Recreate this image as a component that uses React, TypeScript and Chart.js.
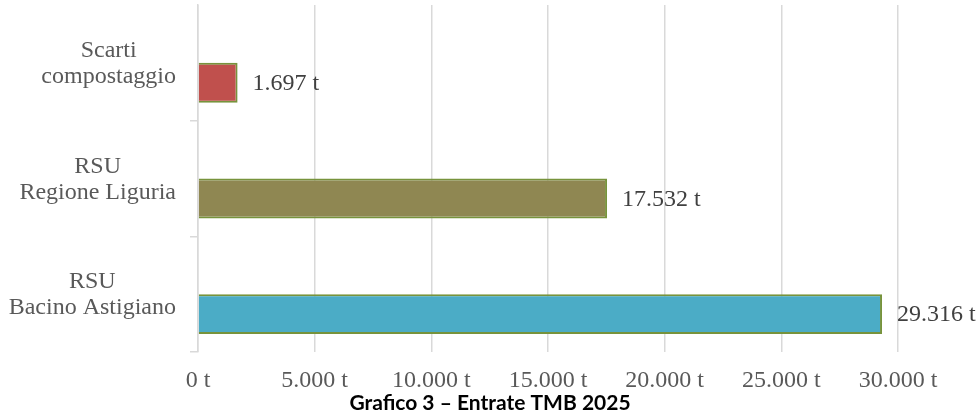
import React, { useEffect, useRef } from "react";
import { Chart, registerables } from "chart.js";

Chart.register(...registerables);

// ---- data ----
const categories: string[][] = [
  ["Scarti", "compostaggio"],
  ["RSU", "Regione Liguria"],
  ["RSU", "Bacino Astigiano"],
];
const upperValues = [0, 0, 30];
const tonnes = [1697, 17532, 29316];
const barColors = ["#C0504D", "#8F8752", "#4BACC6"];
const xMin = 0;
const xMax = 30000;
const xStep = 5000;
const chartTitle = "Grafico 3 – Entrate TMB 2025";

const SERIF = "'Liberation Serif', 'Times New Roman', serif";
const FS = 24;

function fmt(n: number): string {
  return String(Math.round(n)).replace(/\B(?=(\d{3})+(?!\d))/g, ".") + " t";
}

const labelPlugin = {
  id: "customLabels",
  afterDraw(chart: any) {
    const ctx = chart.ctx;
    const y = chart.scales.y;
    ctx.save();
    // category labels: each label centred on itself, right edge fixed
    ctx.font = `${FS}px ${SERIF}`;
    ctx.fillStyle = "#595959";
    ctx.textAlign = "center";
    ctx.textBaseline = "middle";
    const rightEdge = y.right - 22;
    const lh = 26;
    categories.forEach((lines, i) => {
      const cy = y.getPixelForValue(i);
      const w = Math.max(...lines.map((l) => ctx.measureText(l).width));
      const cx = rightEdge - w / 2;
      lines.forEach((l, k) => {
        ctx.fillText(l, cx, cy + 1 + (k - (lines.length - 1) / 2) * lh);
      });
    });
    // value labels
    const meta = chart.getDatasetMeta(1);
    ctx.fillStyle = "#404040";
    ctx.textAlign = "left";
    meta.data.forEach((bar: any, i: number) => {
      ctx.fillText(fmt(tonnes[i]), bar.x + 15, bar.y + 1);
    });
    // title, centred on the whole canvas
    ctx.font = `bold 21px Lato, 'Open Sans', sans-serif`;
    ctx.fillStyle = "#000000";
    ctx.textAlign = "center";
    ctx.fillText(chartTitle, chart.width / 2, 403);
    ctx.restore();
  },
};

export default function App() {
  const ref = useRef<HTMLCanvasElement | null>(null);
  useEffect(() => {
    document.body.style.margin = "0";
    const canvas = ref.current!;
    const chart = new Chart(canvas, {
      type: "bar",
      data: {
        labels: categories.map((c) => c.join(" ")),
        datasets: [
          {
            data: upperValues,
            backgroundColor: "#8F8752",
            borderColor: "#77933C",
            borderWidth: 1.5,
            barPercentage: 1,
            categoryPercentage: 0.69,
          },
          {
            data: tonnes,
            backgroundColor: barColors,
            borderColor: "#77933C",
            borderWidth: 2,
            barPercentage: 1,
            categoryPercentage: 0.69,
          },
        ],
      },
      plugins: [labelPlugin],
      options: {
        indexAxis: "y",
        animation: false,
        responsive: false,
        maintainAspectRatio: false,
        layout: { padding: { left: 0, right: 82, top: 5, bottom: 0 } },
        plugins: {
          legend: { display: false },
          tooltip: { enabled: false },
          title: { display: false },
        },
        scales: {
          x: {
            min: xMin,
            max: xMax,
            ticks: {
              stepSize: xStep,
              callback: (v: any) => fmt(Number(v)),
              color: "#595959",
              font: { family: SERIF, size: FS },
              padding: 14,
              maxRotation: 0,
            },
            grid: { color: "#D9D9D9", lineWidth: 1.5, drawTicks: false },
            border: { display: false },
            afterFit: (s: any) => {
              s.height = 66;
            },
          },
          y: {
            type: "category",
            ticks: { display: false },
            grid: {
              offset: true,
              drawOnChartArea: false,
              drawTicks: true,
              tickLength: 8,
              color: (c: any) => (c.index === 0 ? "rgba(0,0,0,0)" : "#D9D9D9"),
              lineWidth: 1.5,
            },
            border: { display: true, color: "#D9D9D9", width: 1.5 },
            afterFit: (s: any) => {
              s.width = 198;
            },
          },
        },
      } as any,
    });
    return () => chart.destroy();
  }, []);
  return <canvas ref={ref} width={980} height={418} style={{ display: "block" }} />;
}
